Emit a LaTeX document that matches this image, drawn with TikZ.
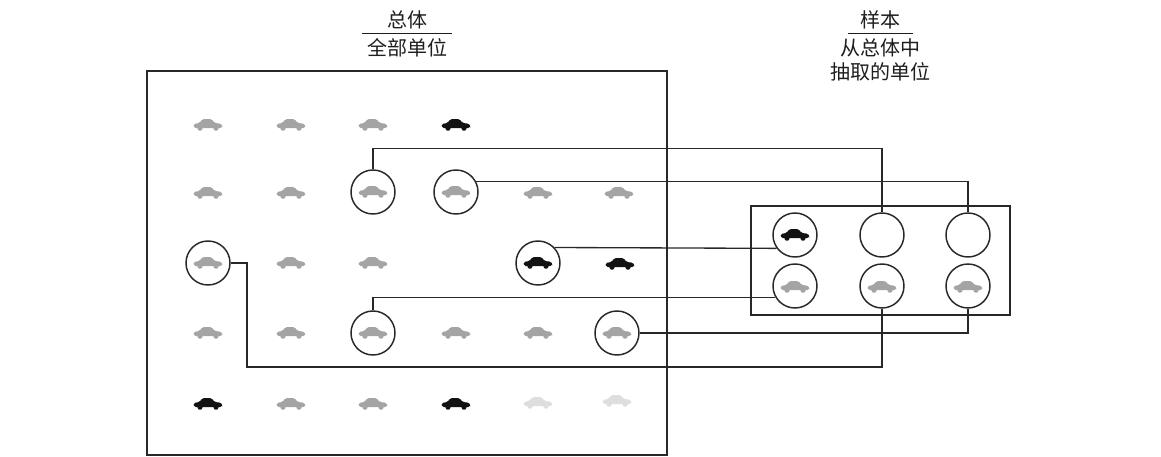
\documentclass[tikz,border=0pt]{standalone}
\usepackage{fontspec}
\newfontfamily\cjk{Noto Sans CJK SC}
\definecolor{linec}{HTML}{282828}
\definecolor{textc}{HTML}{1E1E1E}
\definecolor{cargray}{HTML}{A4A4A4}
\definecolor{carblack}{HTML}{121212}
\definecolor{carfaint}{HTML}{DEDEDE}
\begin{document}
\begin{tikzpicture}[x=0.75pt,y=-0.75pt,
  frame/.style={draw=linec, line width=1pt, inner sep=0pt},
  unit/.style={circle, draw=linec, line width=1.1pt, minimum size=33pt, inner sep=0pt},
  link/.style={draw=linec, line width=1pt},
  caption/.style={font=\cjk\fontsize{15}{18}\selectfont, text=textc, inner sep=0pt},
  rule/.style={draw=textc, line width=0.7pt},
  pics/car/.style={code={
    \fill[#1, rounded corners=1.2pt] (-14,3) -- (-14.5,-1) -- (-8.5,-2) -- (-5.5,-6)
      -- (3.5,-6) -- (6.5,-2) -- (13,-1.3) -- (14.5,1) -- (14,3) -- cycle;
    \fill[#1] (-8,3.2) circle[radius=2.6] (8,3.2) circle[radius=2.6];
  }}]
\useasboundingbox (0,0) rectangle (1161,457);
\fill[white] (0,0) rectangle (1161,457);

% captions
\node[caption] (popt) at (407,20) {总体};
\node[caption] (popd) at (407,48) {全部单位};
\draw[rule] (362,33) -- (452,33);
\node[caption] (smpt) at (880,20) {样本};
\node[caption] (smpd1) at (880,48) {从总体中};
\node[caption] (smpd2) at (880,72) {抽取的单位};
\draw[rule] (848,33) -- (913,33);

% frames
\node[frame, minimum width=390pt, minimum height=288pt] (population) at (407,263) {};
\node[frame, minimum width=194.25pt, minimum height=81.75pt] (sample) at (880.5,260.5) {};

% cars of the population
\foreach \x/\y/\c in {
  208/125/cargray, 291/125/cargray, 373/125/cargray, 456/125/carblack,
  208/193/cargray, 291/193/cargray, 373/192/cargray, 456/192/cargray, 538/193/cargray, 619/193/cargray,
  208/263/cargray, 291/263/cargray, 373/263/cargray, 538/263/carblack, 620/264/carblack,
  208/333/cargray, 291/333/cargray, 373/333/cargray, 456/333/cargray, 538/333/cargray, 617/333/cargray,
  208/404/carblack, 291/404/cargray, 373/404/cargray, 456/404/carblack, 538/403/carfaint, 617/401/carfaint}
  \pic at (\x,\y) {car=\c};

% sampled units in the population
\node[unit] (p1) at (373,192) {};
\node[unit] (p2) at (456,192) {};
\node[unit] (p3) at (538,263) {};
\node[unit] (p4) at (208,263) {};
\node[unit] (p5) at (373,333) {};
\node[unit] (p6) at (617,333) {};

% units in the sample
\node[unit] (s11) at (795,235) {};
\node[unit] (s12) at (882,235) {};
\node[unit] (s13) at (968,235) {};
\node[unit] (s21) at (795,286) {};
\node[unit] (s22) at (882,286) {};
\node[unit] (s23) at (968,286) {};
\pic at (795,235) {car=carblack};
\foreach \x in {795,882,968} \pic at (\x,287) {car=cargray};

% links from population units to sample units
\coordinate (bend4) at (247,367);
\draw[link] (p1.north) -- ++(0,-21) -| (s12.north);
\draw[link] (p2.27) -| (s13.north);
\draw[link] (p3.43) -- (s11.216);
\draw[link] (p4.east) -| (bend4) -| (s22.south);
\draw[link] (p5.north) |- (s21.210);
\draw[link] (p6.east) -| (s23.south);
\end{tikzpicture}
\end{document}
